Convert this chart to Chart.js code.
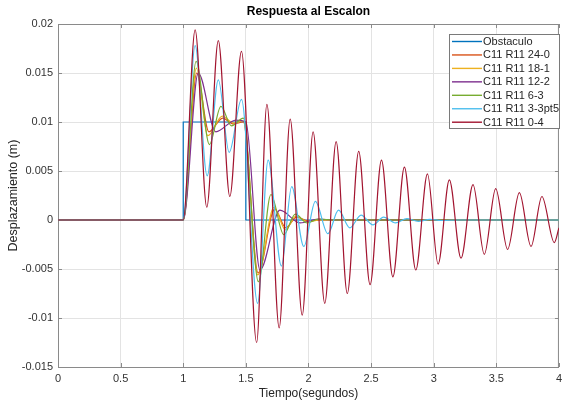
<!DOCTYPE html>
<html>
<head>
<meta charset="utf-8">
<script src="https://cdn.jsdelivr.net/npm/chart.js@4"></script>
<style>
  html, body { margin: 0; padding: 0; background: #fff; }
  #wrap { width: 567px; height: 401px; }
</style>
</head>
<body>
<div id="wrap"><canvas id="c" width="567" height="401"></canvas></div>
<script>
// ---- Data (extrema of each curve) ----
const seriesLabels = ['Obstaculo', 'C11 R11 24-0', 'C11 R11 18-1', 'C11 R11 12-2', 'C11 R11 6-3', 'C11 R11 3-3pt5', 'C11 R11 0-4'];
const seriesColors = ['#0072BD', '#D95319', '#EDB120', '#7E2F8E', '#77AC30', '#4DBEEE', '#A2142F'];

const tObst = [0, 1, 1, 1.5, 1.5, 4];
const vObst = [0, 0, 0.01, 0.01, 0, 0];

const t24_0 = [0, 1.0, 1.108, 1.205, 1.315, 1.40, 1.48, 1.598, 1.73, 1.82, 1.905, 2.0, 2.1, 4];
const v24_0 = [0, 0, 0.0150, 0.0090, 0.0104, 0.0098, 0.0100, -0.0054, 0.0011, -0.0008, 0.0003, -0.0001, 0, 0];

const t18_1 = [0, 1.0, 1.105, 1.196, 1.312, 1.40, 1.48, 1.595, 1.725, 1.816, 1.90, 1.995, 2.09, 4];
const v18_1 = [0, 0, 0.0155, 0.0086, 0.0106, 0.0099, 0.0101, -0.0056, 0.0013, -0.0010, 0.0004, -0.0002, 0, 0];

const t12_2 = [0, 1.0, 1.12, 1.26, 1.42, 1.50, 1.613, 1.772, 1.934, 2.08, 2.2, 4];
const v12_2 = [0, 0, 0.0150, 0.0090, 0.0102, 0.0100, -0.0051, 0.0010, -0.0003, 0.0001, 0, 0];

const t6_3 = [0, 1.0, 1.103, 1.209, 1.301, 1.385, 1.48, 1.60, 1.70, 1.803, 1.895, 1.99, 2.08, 2.2, 4];
const v6_3 = [0, 0, 0.0162, 0.0077, 0.0116, 0.0096, 0.0104, -0.0063, 0.0026, -0.0015, 0.0006, -0.0003, 0.0001, 0, 0];

const t3_35 = [0, 1.0, 1.095, 1.191, 1.280, 1.367, 1.465, 1.594, 1.678, 1.784, 1.866, 1.963, 2.055, 2.155, 2.24, 2.33, 2.42, 2.515, 2.60, 2.695, 2.786, 2.877, 2.97, 3.06, 3.2, 4];
const v3_35 = [0, 0, 0.0178, 0.0045, 0.0143, 0.0069, 0.0123, -0.0085, 0.0061, -0.0047, 0.0034, -0.0027, 0.0019, -0.0014, 0.0010, -0.0008, 0.0005, -0.0005, 0.0003, -0.0003, 0.00015, -0.00014, 0.00007, -0.00005, 0, 0];

const t0_4 = [0, 1.0, 1.095, 1.188, 1.280, 1.372, 1.465, 1.586, 1.668, 1.766, 1.854, 1.950, 2.037, 2.130, 2.221, 2.310, 2.401, 2.492, 2.583, 2.674, 2.766, 2.857, 2.950, 3.035, 3.125, 3.218, 3.314, 3.404, 3.495, 3.590, 3.684, 3.777, 3.864, 3.963, 4.0];
const v0_4 = [0, 0, 0.0194, 0.0013, 0.0183, 0.0024, 0.0172, -0.0125, 0.0118, -0.0110, 0.0103, -0.0097, 0.0090, -0.0085, 0.0080, -0.0075, 0.0070, -0.0066, 0.0061, -0.0058, 0.0054, -0.0051, 0.0047, -0.0045, 0.0041, -0.0039, 0.0036, -0.0035, 0.0032, -0.0030, 0.0028, -0.0027, 0.0024, -0.0023, -0.0008];

const xTickValues = [0, 0.5, 1, 1.5, 2, 2.5, 3, 3.5, 4];
const xTickLabels = ['0', '0.5', '1', '1.5', '2', '2.5', '3', '3.5', '4'];
const yTickValues = [-0.015, -0.01, -0.005, 0, 0.005, 0.01, 0.015, 0.02];
const yTickLabels = ['-0.015', '-0.01', '-0.005', '0', '0.005', '0.01', '0.015', '0.02'];

const titleText = 'Respuesta al Escalon';
const xTitle = 'Tiempo(segundos)';
const yTitle = 'Desplazamiento (m)';

// ---- Build datasets ----
function pts(ts, vs) { return ts.map((t, i) => ({ x: t, y: vs[i] })); }
const allT = [tObst, t24_0, t18_1, t12_2, t6_3, t3_35, t0_4];
const allV = [vObst, v24_0, v18_1, v12_2, v6_3, v3_35, v0_4];

const datasets = allT.map((ts, i) => ({
  label: seriesLabels[i],
  data: pts(ts, allV[i]),
  borderColor: seriesColors[i],
  backgroundColor: seriesColors[i],
  borderWidth: 1.2,
  pointRadius: 0,
  fill: false,
  tension: i === 0 ? 0 : 0.4,
  cubicInterpolationMode: i === 0 ? 'default' : 'monotone',
  order: 10 - i
}));

const FONT = "'Liberation Sans', Arial, Helvetica, sans-serif";

const boxPlugin = {
  id: 'boxPlugin',
  beforeDatasetsDraw(chart) {
    const a = chart.chartArea;
    const ctx = chart.ctx;
    ctx.save();
    ctx.strokeStyle = '#8a8a8a';
    ctx.lineWidth = 1;
    ctx.beginPath();
    ctx.moveTo(a.left, a.top + 0.5);
    ctx.lineTo(a.right, a.top + 0.5);
    ctx.moveTo(a.right - 0.5, a.top);
    ctx.lineTo(a.right - 0.5, a.bottom);
    ctx.stroke();
    // inward tick marks
    const xs = chart.scales.x, ys = chart.scales.y;
    ctx.beginPath();
    xTickValues.forEach(v => {
      const px = Math.round(xs.getPixelForValue(v)) + 0.5;
      ctx.moveTo(px, a.bottom); ctx.lineTo(px, a.bottom - 4);
      ctx.moveTo(px, a.top); ctx.lineTo(px, a.top + 4);
    });
    yTickValues.forEach(v => {
      const py = Math.round(ys.getPixelForValue(v)) + 0.5;
      ctx.moveTo(a.left, py); ctx.lineTo(a.left + 4, py);
      ctx.moveTo(a.right, py); ctx.lineTo(a.right - 4, py);
    });
    ctx.stroke();
    ctx.restore();
  },
  afterDraw(chart) {
    const ctx = chart.ctx;
    const x0 = 449, y0 = 34, w = 110, h = 94;
    ctx.save();
    ctx.fillStyle = '#ffffff';
    ctx.fillRect(x0, y0, w, h);
    ctx.strokeStyle = '#7a7a7a';
    ctx.lineWidth = 1;
    ctx.strokeRect(x0 + 0.5, y0 + 0.5, w, h);
    ctx.font = '11px ' + FONT;
    ctx.textBaseline = 'middle';
    ctx.textAlign = 'left';
    chart.data.datasets.forEach((ds, i) => {
      const y = 41.5 + i * 13.45;
      ctx.strokeStyle = ds.borderColor;
      ctx.lineWidth = 1.4;
      ctx.beginPath();
      ctx.moveTo(452, y);
      ctx.lineTo(482, y);
      ctx.stroke();
      ctx.fillStyle = '#262626';
      ctx.fillText(ds.label, 483, y + 0.5);
    });
    ctx.restore();
  }
};

new Chart(document.getElementById('c'), {
  type: 'line',
  data: { datasets },
  plugins: [boxPlugin],
  options: {
    responsive: false,
    animation: false,
    events: [],
    layout: { padding: { left: 0, right: 6, top: 0, bottom: 0 } },
    plugins: {
      legend: { display: false },
      tooltip: { enabled: false },
      title: {
        display: true,
        text: titleText,
        fullSize: false,
        color: '#000',
        font: { family: FONT, size: 12, weight: 'bold' },
        padding: { top: 4, bottom: 5.6 }
      }
    },
    scales: {
      x: {
        type: 'linear',
        min: 0, max: 4,
        afterBuildTicks: s => { s.ticks = xTickValues.map(v => ({ value: v })); },
        afterFit: s => { s.height = 34; },
        ticks: {
          callback: (v, i) => xTickLabels[i],
          color: '#333',
          font: { family: FONT, size: 11 },
          padding: 5,
          maxRotation: 0,
          autoSkip: false
        },
        grid: { color: '#e3e3e3', drawTicks: false, lineWidth: 1 },
        border: { color: '#8a8a8a' },
        title: {
          display: true,
          text: xTitle,
          color: '#262626',
          font: { family: FONT, size: 12 },
          padding: { top: 0, bottom: 0 }
        }
      },
      y: {
        type: 'linear',
        min: -0.015, max: 0.02,
        afterBuildTicks: s => { s.ticks = yTickValues.map(v => ({ value: v })); },
        afterFit: s => { s.width = 58; },
        ticks: {
          callback: (v, i) => yTickLabels[i],
          color: '#333',
          font: { family: FONT, size: 11 },
          padding: 5,
          autoSkip: false
        },
        grid: { color: '#e3e3e3', drawTicks: false, lineWidth: 1 },
        border: { color: '#8a8a8a' },
        title: {
          display: true,
          text: yTitle,
          color: '#262626',
          font: { family: FONT, size: 12.5 },
          padding: { top: 6, bottom: 0 }
        }
      }
    }
  }
});
</script>
</body>
</html>
